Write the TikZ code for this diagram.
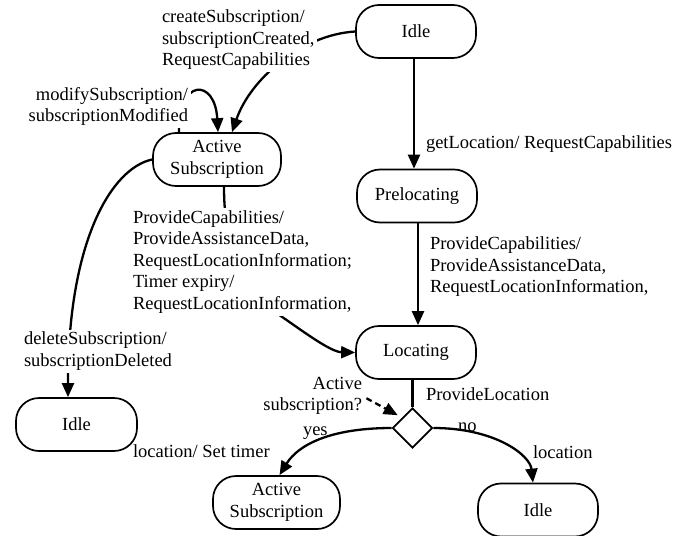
\documentclass[tikz,border=0pt]{standalone}
\usepackage{fontspec}
\setmainfont{Liberation Serif}
\usetikzlibrary{arrows.meta,shapes.geometric}
\begin{document}
\begin{tikzpicture}[x=1pt,y=-1pt,
  every node/.style={font=\fontsize{18.5}{21.5}\selectfont},
  state/.style={draw,line width=1.7pt,rectangle,rounded corners=23pt,
    minimum height=53pt,minimum width=120pt,inner sep=0pt,align=center},
  choice/.style={draw,line width=1.7pt,diamond,minimum width=40pt,
    minimum height=40pt,inner sep=0pt},
  trans/.style={line width=2.3pt,-{Triangle[length=14pt,width=12pt]}},
  plain/.style={line width=2.3pt},
  guard/.style={line width=2.3pt,dash pattern=on 6pt off 4pt,
    -{Triangle[length=14pt,width=12pt]}},
  lbl/.style={inner sep=0pt,outer sep=0pt},
  cover/.style={fill=white,inner sep=2.5pt,outer sep=0pt}]
\useasboundingbox (0,0) rectangle (687,535);

% states
\node[state] (idleA) at (416,31.5) {Idle};
\node[state,minimum width=128pt] (subA) at (217,159.5) {Active\\Subscription};
\node[state] (preloc) at (417,196) {Prelocating};
\node[state] (loc) at (416,352.5) {Locating};
\node[choice] (dec) at (412.5,428) {};
\node[state,minimum width=121pt] (idleB) at (76.5,424.5) {Idle};
\node[state,minimum width=127pt] (subB) at (276.5,502.5) {Active\\Subscription};
\node[state] (idleC) at (538,510) {Idle};

% transitions
\draw[trans] (idleA.west) .. controls (300,35) and (250,80) .. ([xshift=15pt]subA.north);
\draw[trans] ([xshift=-38pt]subA.north) .. controls (178,78) and (215,78) .. ([xshift=1pt]subA.north);
\draw[trans] (subA.west) .. controls (112,168) and (68,240) .. ([xshift=-8.5pt]idleB.north);
\draw[trans] ([xshift=7pt]subA.south) .. controls (224,260) and (250,295) .. (275,312)
  .. controls (300,329) and (330,352) .. (loc.west);
\draw[trans] ([xshift=-2pt]idleA.south) -- ([xshift=-3pt]preloc.north);
\draw[trans] ([xshift=1pt]preloc.south) -- ([xshift=2pt]loc.north);
\draw[plain] (dec.north) -- (dec.north |- loc.south);
\draw[trans] (dec.west) .. controls (330,428) and (298,445) .. ([xshift=3pt]subB.north);
\draw[trans] (dec.east) .. controls (495,428) and (530,455) .. ([xshift=-5pt]idleC.north);

% labels
\node[cover,align=left,anchor=north west] (lcreate) at (159.5,7.5)
  {createSubscription/\\subscriptionCreated,\\RequestCapabilities};
\node[cover,align=right,anchor=north east] (lmodify) at (190.5,84.5)
  {modifySubscription/\\subscriptionModified};
\node[cover,align=left,anchor=north west] (lprovide) at (130.5,208)
  {ProvideCapabilities/\\ProvideAssistanceData,\\RequestLocationInformation;\\Timer expiry/\\RequestLocationInformation,};
\node[cover,align=left,anchor=north west] (ldelete) at (21.5,329.5)
  {deleteSubscription/\\subscriptionDeleted};
\node[lbl,anchor=base west] (lget) at (426,148) {getLocation/ RequestCapabilities};
\node[lbl,align=left,anchor=north west] (lpre) at (430,237)
  {ProvideCapabilities/\\ProvideAssistanceData,\\RequestLocationInformation,};
\node[lbl,anchor=base west] (lprovloc) at (426,400) {ProvideLocation};
\node[lbl,align=right,anchor=north east] (lactive) at (362,377) {Active\\subscription?};
\node[lbl,anchor=base west] (lyes) at (303,435) {yes};
\node[lbl,anchor=base west] (ltimer) at (133,457) {location/ Set timer};
\node[lbl,anchor=base west] (lno) at (458,431) {no};
\node[lbl,anchor=base west] (lloc) at (533,458) {location};

% guard arrow
\draw[guard,shorten <=5pt,shorten >=5pt] (lactive.east) -- (dec.north west);
\end{tikzpicture}
\end{document}
